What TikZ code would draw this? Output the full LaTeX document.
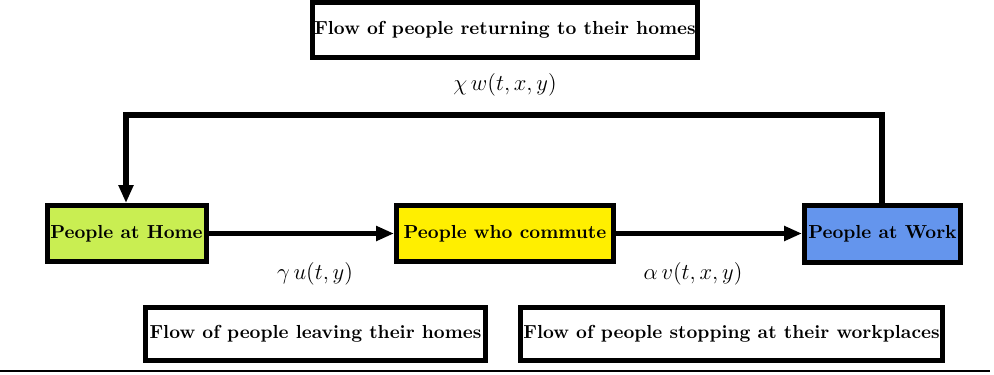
\documentclass[tikz,border=0pt]{standalone}
\usetikzlibrary{arrows.meta}
\definecolor{homegreen}{HTML}{C9EE52}
\definecolor{commyellow}{HTML}{FFEF00}
\definecolor{workblue}{HTML}{6495ED}
\begin{document}
\begin{tikzpicture}[x=0.53pt,y=-0.53pt,
  box/.style={draw=black,line width=2.65pt,inner sep=0pt,font=\bfseries,align=center},
  flow/.style={line width=2.9pt,-{Triangle[length=9.5pt,width=7.5pt]}},
  lab/.style={inner sep=0pt,font=\large}]
\useasboundingbox (0,0) rectangle (994,374);
\node[box,fill=white,minimum width={385*0.53pt},minimum height={55*0.53pt}] (ret) at (505,30) {Flow of people returning to their homes};
\node[lab] (chi) at (505,85) {$\chi\, w(t,x,y)$};
\node[box,fill=homegreen,minimum width={159*0.53pt},minimum height={56*0.53pt}] (home) at (126.5,233.5) {People at Home};
\node[box,fill=commyellow,minimum width={217*0.53pt},minimum height={56*0.53pt}] (comm) at (505,233.5) {People who commute};
\node[box,fill=workblue,minimum width={156*0.53pt},minimum height={57*0.53pt}] (work) at (882.5,233.5) {People at Work};
\node[lab] (gam) at (315,274) {$\gamma\, u(t,y)$};
\node[lab] (alp) at (693,274) {$\alpha\, v(t,x,y)$};
\node[box,fill=white,minimum width={340*0.53pt},minimum height={53*0.53pt}] (leave) at (315.5,334) {Flow of people leaving their homes};
\node[box,fill=white,minimum width={422*0.53pt},minimum height={53*0.53pt}] (stop) at (731.5,334) {Flow of people stopping at their workplaces};
\coordinate (c1) at (882,115);
\coordinate (c2) at (126,115);
\draw[flow] (home.east) -- (comm.west);
\draw[flow] (comm.east) -- (work.west);
\draw[flow,line join=miter] (work.north -| c1) -- (c1) -- (c2) -- (home.north -| c2);
\coordinate (l1) at (0,371);
\coordinate (l2) at (990,371);
\draw[line width=0.6pt] (l1) -- (l2);
\end{tikzpicture}
\end{document}
